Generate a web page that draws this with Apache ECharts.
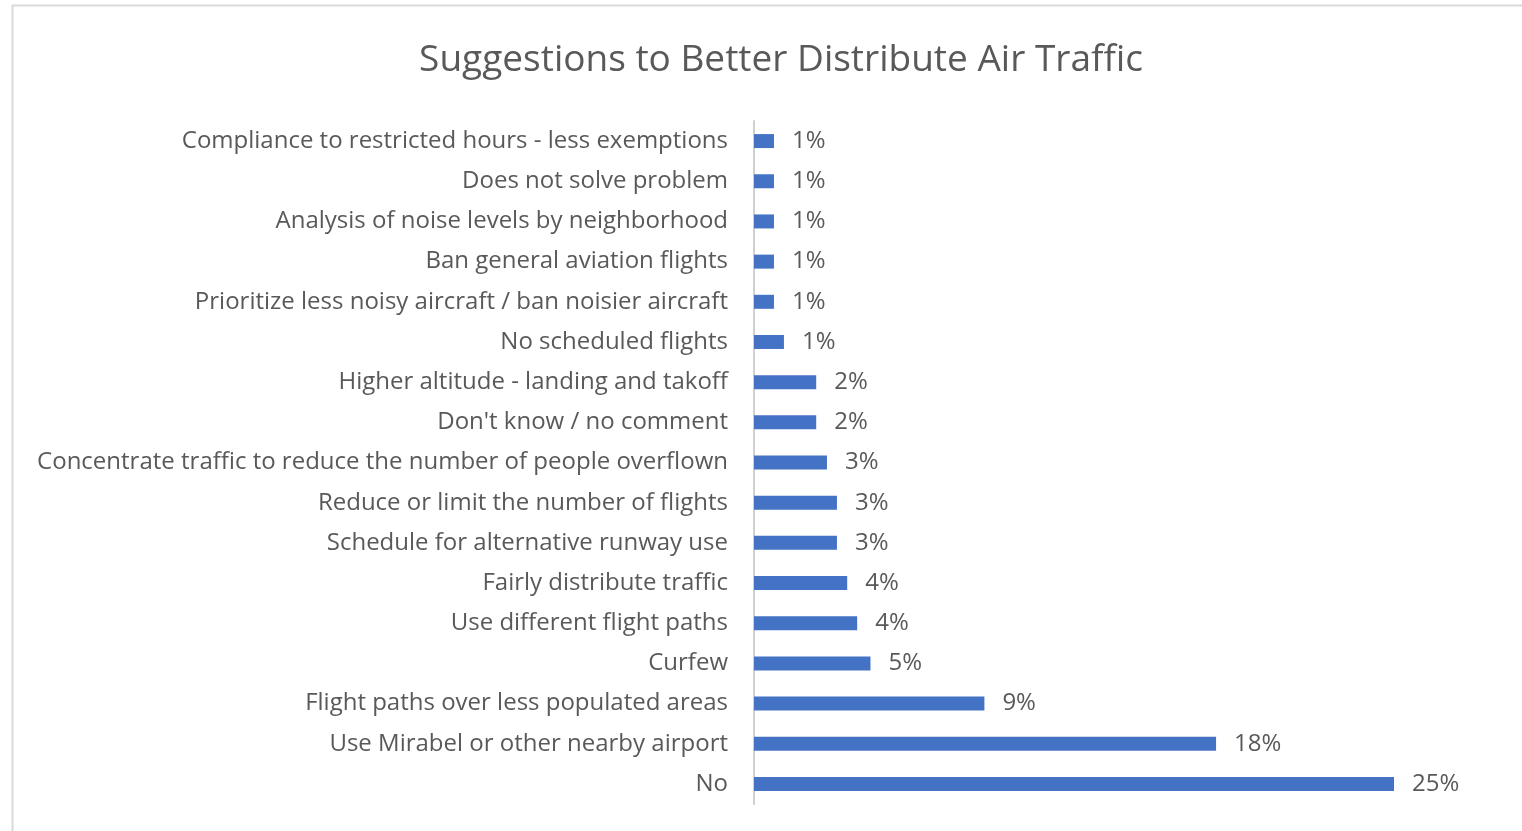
<!DOCTYPE html>
<html>
<head>
<meta charset="utf-8">
<script src="https://cdn.jsdelivr.net/npm/echarts@6/dist/echarts.min.js"></script>
<style>
html,body{margin:0;padding:0;background:#fff;}
#chart{width:1522px;height:831px;}
</style>
</head>
<body>
<div id="chart"></div>
<script>
var categories = [
  "Compliance to restricted hours - less exemptions",
  "Does not solve problem",
  "Analysis of noise levels by neighborhood",
  "Ban general aviation flights",
  "Prioritize less noisy aircraft / ban noisier aircraft",
  "No scheduled flights",
  "Higher altitude - landing and takoff",
  "Don't know / no comment",
  "Concentrate traffic to reduce the number of people overflown",
  "Reduce or limit the number of flights",
  "Schedule for alternative runway use",
  "Fairly distribute traffic",
  "Use different flight paths",
  "Curfew",
  "Flight paths over less populated areas",
  "Use Mirabel or other nearby airport",
  "No"
];
var values = [0.78, 0.78, 0.78, 0.78, 0.78, 1.17, 2.43, 2.43, 2.85, 3.24, 3.24, 3.64, 4.03, 4.55, 9.0, 18.05, 25.0];

var chart = echarts.init(document.getElementById('chart'));
var textColor = '#595959';
var fontFam = '"Open Sans", "Noto Sans", sans-serif';
chart.setOption({
  animation: false,
  title: {
    text: 'Suggestions to Better Distribute Air Traffic',
    left: 776, textAlign: 'center', top: 37,
    textStyle: {fontFamily: fontFam, fontSize: 37, fontWeight: 'normal', color: textColor}
  },
  graphic: [{
    type: 'rect', shape: {x: 12.5, y: 5.5, width: 1600, height: 900},
    style: {fill: 'none', stroke: '#d9d9d9', lineWidth: 2}, silent: true
  }],
  grid: {left: 754, right: 128, top: 121, bottom: 27, containLabel: false},
  xAxis: {
    type: 'value', min: 0, max: 25,
    show: false
  },
  yAxis: {
    type: 'category', data: categories, inverse: true,
    axisLine: {show: true, lineStyle: {color: '#d0d0d0', width: 2}},
    axisTick: {show: false},
    axisLabel: {margin: 26, fontFamily: fontFam, fontSize: 24, color: textColor}
  },
  series: [{
    type: 'bar', data: values, barWidth: 14,
    itemStyle: {color: '#4472C4'},
    label: {
      show: true, position: 'right', distance: 18,
      fontFamily: fontFam, fontSize: 24, color: textColor,
      formatter: function (p) { return Math.round(p.value) + '%'; }
    }
  }]
});
</script>
</body>
</html>
